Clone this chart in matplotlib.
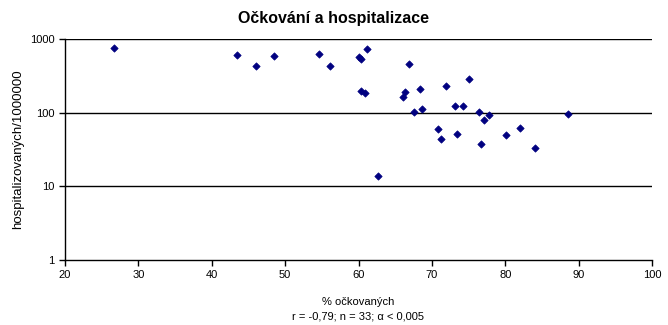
import numpy as np
import matplotlib
matplotlib.use('Agg')
import matplotlib.pyplot as plt
from matplotlib.ticker import FixedLocator, NullLocator

plt.rcParams['font.family'] = ['Liberation Sans', 'DejaVu Sans']

# vaccination rate (%) vs hospitalised per million
ockovani = [26.7, 43.4, 46.0, 48.5, 54.6, 56.1, 60.1, 60.3, 61.1, 60.3, 60.9,
            66.9, 66.4, 66.1, 68.4, 71.9, 75.1, 67.6, 68.7, 73.1, 74.2, 76.4,
            77.8, 77.1, 88.5, 70.9, 71.3, 73.4, 76.7, 80.1, 82.0, 84.0, 62.7]
hospitalizace = [755, 607, 430, 588, 626, 430, 570, 535, 724, 197, 185,
                 454, 191, 162, 208, 230, 284, 101, 112, 123, 123, 101,
                 93, 80, 96, 60, 44, 51, 38, 49, 62, 33, 13.7]

x_ticks = [20, 30, 40, 50, 60, 70, 80, 90, 100]
y_ticks = [1, 10, 100, 1000]

fig = plt.figure(figsize=(6.68, 3.25), dpi=100)
ax = fig.add_axes([65/668, 1-260/325, (652-65)/668, (260-39)/325])

ax.set_yscale('log')
ax.set_xlim(20, 100)
ax.set_ylim(1, 1000)

for yv in [10, 100, 1000]:
    ax.axhline(yv, color='black', lw=1, zorder=1)

ax.scatter(ockovani, hospitalizace, marker='D', s=14, color='#000080',
           edgecolors='#000080', linewidths=0.5, zorder=3)

ax.xaxis.set_major_locator(FixedLocator(x_ticks))
ax.yaxis.set_major_locator(FixedLocator(y_ticks))
ax.yaxis.set_minor_locator(NullLocator())
ax.set_xticklabels([str(v) for v in x_ticks])
ax.set_yticklabels([str(v) for v in y_ticks])
ax.tick_params(direction='out', length=4, width=1, labelsize=8, color='black')

ax.spines['top'].set_visible(False)
ax.spines['right'].set_visible(False)
ax.spines['left'].set_linewidth(1)
ax.spines['bottom'].set_linewidth(1)

# title centred on the whole figure
fig.text(334/668, 1-18/325, 'Očkování a hospitalizace', fontsize=11.5,
         fontweight='bold', ha='center', va='center')
ax.set_xlabel('% očkovaných\nr = -0,79; n = 33; α < 0,005', fontsize=8,
              linespacing=1.5, labelpad=12)
ax.set_ylabel('hospitalizovaných/1000000', fontsize=9.5)
ax.yaxis.set_label_coords(-(65-24)/587, 0.5)

fig.savefig('out.png', dpi=100)
